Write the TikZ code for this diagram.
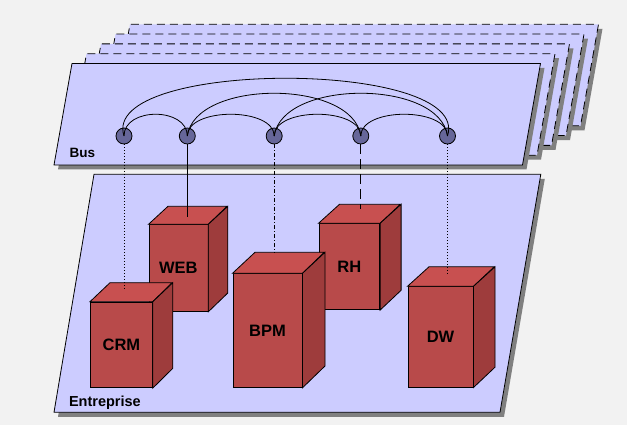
\documentclass[tikz,border=0pt]{standalone}
\usepackage{fontspec}
\setmainfont{Liberation Sans}
\definecolor{bgcol}{HTML}{F2F2F2}
\definecolor{planecol}{HTML}{CCCCFF}
\definecolor{shadowcol}{HTML}{808080}
\definecolor{nodecol}{HTML}{666699}
\definecolor{boxfront}{HTML}{B84A4A}
\definecolor{boxtop}{HTML}{C85050}
\definecolor{boxside}{HTML}{9E3C3C}
\begin{document}
\begin{tikzpicture}[x=1pt,y=-1pt,line width=0.8pt,
  planebox/.style={fill=planecol,draw=black},
  dropshadow/.style={fill=shadowcol,shift={(4,4.5)}},
  busnode/.style={circle,draw,fill=nodecol,minimum size=16pt,inner sep=0pt},
  frontface/.style={draw,fill=boxfront,inner sep=0pt,anchor=north west,
    font=\bfseries\fontsize{16.5}{18}\selectfont},
  dots/.style={dash pattern=on 1pt off 2pt}]
  \useasboundingbox (0,0) rectangle (627,425);
  \fill[bgcol] (0,0) rectangle (627,425);

  % stacked bus layers
  \foreach \k in {4,3,2,1} {
    \fill[dropshadow,shift={({14.5*\k},{-9.8*\k})}]
    (54,165) -- (72,63.5) -- (540.5,63.5) -- (522.5,165) -- cycle;
    \draw[planebox,dash pattern=on 8pt off 5pt,shift={({14.5*\k},{-9.8*\k})}]
    (54,165) -- (72,63.5) -- (540.5,63.5) -- (522.5,165) -- cycle;
  }
  \fill[dropshadow] (54,165) -- (72,63.5) -- (540.5,63.5) -- (522.5,165) -- cycle;
  \draw[planebox] (54,165) -- (72,63.5) -- (540.5,63.5) -- (522.5,165) -- cycle;
  \node[anchor=base west,font=\bfseries\fontsize{13.5}{15}\selectfont] (buslbl)
  at (66,157.3) {Bus};

  % entreprise plane
  \fill[dropshadow] (54,412.3) -- (94,174.3) -- (540.8,174.3) -- (500,412.3) -- cycle;
  \draw[planebox] (54,412.3) -- (94,174.3) -- (540.8,174.3) -- (500,412.3) -- cycle;
  \node[anchor=base west,font=\bfseries\fontsize{14.5}{16}\selectfont] (entlbl)
  at (65.3,406) {Entreprise};

  % boxes
  \foreach \n/\x/\y/\w/\h/\dx/\dy/\t in
  {web/148.5/224.3/59/86.7/19.5/18/WEB, rh/318.5/223.3/60.8/86/21/19/RH,
    crm/90/301.7/62/85.6/20/19/CRM, bpm/232.5/273.3/69.2/113.7/22.5/21/BPM,
    dw/407.5/286.3/65.2/100.4/21.5/19.5/DW} {
    \node[frontface,minimum width=\w pt,minimum height=\h pt] (\n) at (\x,\y) {\t};
    \draw[fill=boxtop] (\n.north west) -- ++(\dx,-\dy) -- ++(\w,0) -- (\n.north east) -- cycle;
    \draw[fill=boxside] (\n.north east) -- ++(\dx,-\dy) -- ++(0,\h) -- (\n.south east) -- cycle;
  }

  % bus nodes and links
  \foreach \i/\x in {1/124,2/187.3,3/274.2,4/360.8,5/447.5}
  \node[busnode] (b\i) at (\x,136) {};
  \draw (b1.center) .. controls +(0,-29) and +(0,-29) .. (b2.center);
  \draw (b2.center) .. controls +(0,-29) and +(0,-29) .. (b3.center);
  \draw (b3.center) .. controls +(0,-29) and +(0,-29) .. (b4.center);
  \draw (b4.center) .. controls +(0,-29) and +(0,-29) .. (b5.center);
  \draw (b2.center) .. controls +(8,-57) and +(-8,-57) .. (b4.center);
  \draw (b3.center) .. controls +(8,-57) and +(-8,-57) .. (b5.center);
  \draw (b1.center) .. controls +(-25,-77) and +(25,-77) .. (b5.center);

  % drops to the applications
  \coordinate (crm-top) at (124,289.3);
  \coordinate (web-top) at (187.3,216.7);
  \coordinate (bpm-top) at (274.2,253.3);
  \coordinate (rh-top) at (360.8,209.3);
  \coordinate (dw-top) at (447.5,275);
  \draw[dots] (b1) -- (crm-top);
  \draw (b2) -- (web-top);
  \draw[dash pattern=on 4pt off 2pt on 1pt off 2pt] (b3) -- (bpm-top);
  \draw[dash pattern=on 10pt off 5pt] (b4) -- (rh-top);
  \draw[dots] (b5) -- (dw-top);
\end{tikzpicture}
\end{document}
